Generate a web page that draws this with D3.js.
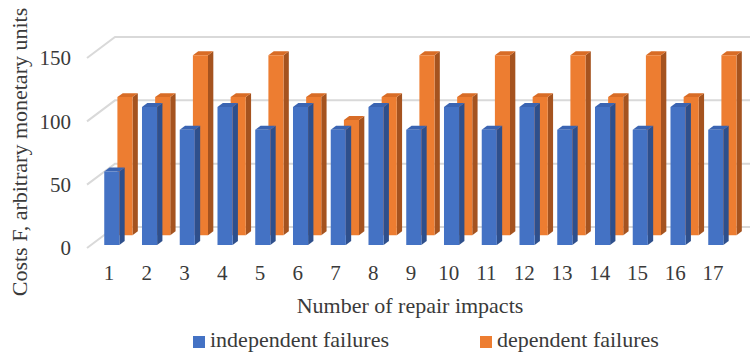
<!DOCTYPE html>
<html>
<head>
<meta charset="utf-8">
<script src="https://cdn.jsdelivr.net/npm/d3@7"></script>
<style>
  html, body { margin: 0; padding: 0; background: #fff; }
  svg { display: block; }
  text { font-family: "Liberation Serif", "Times New Roman", Times, "DejaVu Serif", serif; }
</style>
</head>
<body>
<svg id="chart" width="750" height="354"></svg>
<script>
// Costs per number of repair impacts, two failure types
const categories = ["1","2","3","4","5","6","7","8","9","10","11","12","13","14","15","16","17"];
const independentFailures = [58, 109, 91, 109, 91, 109, 91, 109, 91, 109, 91, 109, 91, 109, 91, 109, 91];
const dependentFailures   = [109, 109, 142, 109, 142, 109, 91, 109, 142, 109, 142, 109, 142, 109, 142, 109, 142];
const yTicks = [0, 50, 100, 150];
const seriesNames = ["independent failures", "dependent failures"];

const FONT = "'Liberation Serif', 'Times New Roman', Times, serif";
const svg = d3.select("#chart");

// Front plane of the 3D box: x band per category, y for values
const floorLeft = 89, floorRight = 89 + 17 * 37.75;
const x = d3.scaleBand().domain(categories).range([floorLeft, floorRight])
  .paddingInner(0.6).paddingOuter(0.3);
const y = d3.scaleLinear().domain([0, 150]).range([248, 58]);

// Oblique depth offset: z = 0 is the front edge, z = 1 the back wall
const DX = 28, DY = 21;
const proj = (px, v, z) => [px + z * DX, y(v) - z * DY];

// Gridlines: along the left side wall and across the back wall
const grid = svg.append("g").attr("fill", "none").attr("stroke", "#d9d9d9").attr("stroke-width", 2);
yTicks.forEach(t => {
  const a = proj(floorLeft - 2, t, 0), b = proj(floorLeft - 2, t, 1), c = proj(floorRight + 2, t, 1);
  grid.append("polyline").attr("points", [a, b, c].map(p => p.join(",")).join(" "));
});

// Value tick labels on the front plane
svg.append("g").selectAll("text").data(yTicks).join("text")
  .attr("x", 71).attr("y", d => y(d)).attr("dy", "0.35em")
  .attr("text-anchor", "end").attr("font-family", FONT).attr("font-size", 21).attr("fill", "#3a3a3a")
  .text(d => d);

// One 3D box per value: front, top and right side faces
function drawBars(g, values, z0, z1, colors) {
  const w = x.bandwidth();
  categories.forEach((c, i) => {
    const v = values[i];
    const x0 = x(c), x1 = x(c) + w;
    const poly = pts => pts.map(p => p.join(",")).join(" ");
    const bar = g.append("g");
    bar.append("polygon").attr("fill", colors.side)
      .attr("points", poly([proj(x1, 0, z0), proj(x1, v, z0), proj(x1, v, z1), proj(x1, 0, z1)]));
    bar.append("polygon").attr("fill", colors.top)
      .attr("points", poly([proj(x0, v, z0), proj(x1, v, z0), proj(x1, v, z1), proj(x0, v, z1)]));
    bar.append("polygon").attr("fill", colors.front)
      .attr("points", poly([proj(x0, 0, z0), proj(x1, 0, z0), proj(x1, v, z0), proj(x0, v, z0)]));
  });
}

const blue = { front: "#4472c4", top: "#3a64b2", side: "#2e4f8c" };
const orange = { front: "#ed7d31", top: "#d86c26", side: "#a5531f" };

// Back row first, front row over it
drawBars(svg.append("g"), dependentFailures, 0.61, 0.80, orange);
drawBars(svg.append("g"), independentFailures, 0.14, 0.33, blue);

// Category labels
svg.append("g").selectAll("text").data(categories).join("text")
  .attr("x", d => x(d) + x.bandwidth() / 2 + 1).attr("y", 280)
  .attr("text-anchor", "middle").attr("font-family", FONT).attr("font-size", 21).attr("fill", "#3a3a3a")
  .text(d => d);

// Axis titles
svg.append("text").attr("x", 410).attr("y", 313).attr("text-anchor", "middle")
  .attr("font-family", FONT).attr("font-size", 22).attr("fill", "#3a3a3a").text("Number of repair impacts");
svg.append("text").attr("transform", "translate(27,152) rotate(-90)").attr("text-anchor", "middle")
  .attr("font-family", FONT).attr("font-size", 22).attr("fill", "#3a3a3a").text("Costs F, arbitrary monetary units");

// Legend
const legend = svg.append("g");
const legendItems = [
  { name: seriesNames[0], color: blue.front, x: 193 },
  { name: seriesNames[1], color: orange.front, x: 480 }
];
legendItems.forEach(it => {
  legend.append("rect").attr("x", it.x).attr("y", 336).attr("width", 12).attr("height", 12).attr("fill", it.color);
  legend.append("text").attr("x", it.x + 17).attr("y", 347).attr("font-family", FONT).attr("font-size", 22)
    .attr("fill", "#3a3a3a").text(it.name);
});
</script>
</body>
</html>
